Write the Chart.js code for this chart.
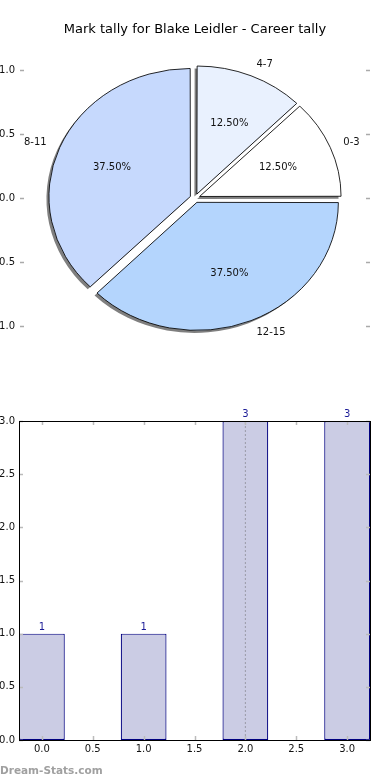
<!DOCTYPE html>
<html>
<head>
<meta charset="utf-8">
<script src="https://cdn.jsdelivr.net/npm/chart.js@4/dist/chart.umd.min.js"></script>
<style>
  html, body { margin: 0; padding: 0; background: #fff; }
  body { width: 390px; height: 780px; position: relative; overflow: hidden; }
  #pieChart { position: absolute; left: -10px; top: 0; }
  #barChart { position: absolute; left: -10px; top: 380px; }
  .watermark { position: absolute; left: 0; top: 764px; font: bold 10.5px "DejaVu Sans", sans-serif; color: #a0a0a0; }
</style>
</head>
<body>
<canvas id="pieChart" width="410" height="380"></canvas>
<canvas id="barChart" width="400" height="400"></canvas>
<div class="watermark">Dream-Stats.com</div>
<script>
// data
const chartTitle = "Mark tally for Blake Leidler - Career tally";
const markRanges = ["0-3", "4-7", "8-11", "12-15"];
const tallyCounts = [1, 1, 3, 3];
const sliceColors = ["#ffffff", "#e9f1fe", "#c6d9fd", "#b4d5fd"];
const pieTicks = [-1, -0.5, 0, 0.5, 1];
const barPositions = [0, 1, 2, 3];
const barXTicks = [0, 0.5, 1, 1.5, 2, 2.5, 3];
const barYTicks = [0, 0.5, 1, 1.5, 2, 2.5, 3];
const meanMark = 2.0;

Chart.defaults.font.family = '"DejaVu Sans", sans-serif';
Chart.defaults.font.size = 10;
Chart.defaults.color = "#111";

const ELLIPSE_X = 1.105; // pie axes are not equal-aspect, so it is a bit wider than tall
const total = tallyCounts.reduce((a, b) => a + b, 0);

// matplotlib goes counter-clockwise from 3 o'clock, Chart.js clockwise -> reverse
const pieLabels = markRanges.slice().reverse();
const pieValues = tallyCounts.slice().reverse();
const pieColors = sliceColors.slice().reverse();

function stretch(ctx, cx, cy) {
  ctx.translate(cx, cy);
  ctx.scale(ELLIPSE_X, 1);
  ctx.translate(-cx, -cy);
}

const pieDecor = {
  id: "pieDecor",
  beforeDatasetsDraw(chart) {
    const ctx = chart.ctx;
    const arcs = chart.getDatasetMeta(0).data;
    const cx = arcs[0].x, cy = arcs[0].y;
    // shadow pass, same arcs in grey nudged down-left
    arcs.forEach(arc => {
      const saved = arc.options;
      arc.options = Object.assign({}, saved, { backgroundColor: "rgba(0,0,0,0.5)", borderWidth: 0 });
      ctx.save();
      ctx.translate(-2.5, 2.5);
      stretch(ctx, cx, cy);
      arc.draw(ctx);
      ctx.restore();
      arc.options = saved;
    });
    ctx.save();
    stretch(ctx, cx, cy);
  },
  afterDatasetsDraw(chart) {
    const ctx = chart.ctx;
    ctx.restore();
    const arcs = chart.getDatasetMeta(0).data;
    ctx.save();
    ctx.font = '10px "DejaVu Sans"';
    ctx.fillStyle = "#111";
    ctx.textBaseline = "middle";
    arcs.forEach((arc, i) => {
      const a = (arc.startAngle + arc.endAngle) / 2;
      const shift = (arc.options.offset || 0) / 4;
      const R = arc.outerRadius + shift * (1 - Math.sin(Math.min(Math.PI, arc.circumference)));
      const ex = arc.x + ELLIPSE_X * shift * Math.cos(a);
      const ey = arc.y + shift * Math.sin(a);
      ctx.textAlign = Math.cos(a) > 0 ? "left" : "right";
      ctx.fillText(pieLabels[i], ex + ELLIPSE_X * 1.1 * R * Math.cos(a), ey + 1.1 * R * Math.sin(a));
      ctx.textAlign = "center";
      const pct = (pieValues[i] / total * 100).toFixed(2) + "%";
      ctx.fillText(pct, ex + ELLIPSE_X * 0.6 * R * Math.cos(a), ey + 0.6 * R * Math.sin(a));
    });
    ctx.restore();
  }
};

const pieAxis = (position) => ({
  type: "linear",
  position,
  min: -1.1,
  max: 1.1,
  afterBuildTicks: (scale) => { scale.ticks = pieTicks.map(v => ({ value: v })); },
  afterFit: (scale) => { scale.width = 34; },
  grid: { display: true, drawOnChartArea: false, drawTicks: true, tickLength: 4, tickColor: "#aaa", tickWidth: 1.5 },
  border: { display: false },
  ticks: {
    display: position === "left",
    padding: 5,
    callback: (v) => (v < 0 ? "\u2212" : "") + Math.abs(v).toFixed(1)
  }
});

new Chart(document.getElementById("pieChart"), {
  type: "pie",
  data: {
    labels: pieLabels,
    datasets: [{
      data: pieValues,
      backgroundColor: pieColors,
      borderColor: "#000",
      borderWidth: 0.8,
      offset: 18
    }]
  },
  options: {
    responsive: false,
    animation: false,
    events: [],
    rotation: 90,
    radius: 126.7,
    layout: { padding: { top: 0, left: 0, right: 0, bottom: 41.2 } },
    plugins: {
      legend: { display: false },
      tooltip: { enabled: false },
      title: {
        display: true,
        text: chartTitle,
        color: "#000",
        font: { size: 13, weight: "normal", lineHeight: 1.2 },
        padding: { top: 22, bottom: 20 }
      }
    },
    scales: {
      y: pieAxis("left"),
      y2: pieAxis("right")
    }
  },
  plugins: [pieDecor]
});

const barDecor = {
  id: "barDecor",
  afterDatasetsDraw(chart) {
    const { ctx, chartArea: ca, scales: { x, y } } = chart;
    ctx.save();
    // inward tick marks on all four sides
    ctx.strokeStyle = "#bbb";
    ctx.lineWidth = 1.5;
    ctx.beginPath();
    x.ticks.forEach(t => {
      const px = Math.round(x.getPixelForValue(t.value)) + 0.5;
      ctx.moveTo(px, ca.top); ctx.lineTo(px, ca.top + 4);
      ctx.moveTo(px, ca.bottom); ctx.lineTo(px, ca.bottom - 4);
    });
    y.ticks.forEach(t => {
      const py = Math.round(y.getPixelForValue(t.value)) + 0.5;
      ctx.moveTo(ca.left, py); ctx.lineTo(ca.left + 4, py);
      ctx.moveTo(ca.right, py); ctx.lineTo(ca.right - 4, py);
    });
    ctx.stroke();
    // frame
    ctx.strokeStyle = "#000";
    ctx.lineWidth = 1;
    ctx.strokeRect(ca.left + 0.5, ca.top + 0.5, ca.right - ca.left, ca.bottom - ca.top);
    // counts above bars
    ctx.fillStyle = "#1a1a96";
    ctx.font = '10px "DejaVu Sans"';
    ctx.textAlign = "center";
    ctx.textBaseline = "alphabetic";
    chart.getDatasetMeta(0).data.forEach((bar, i) => {
      ctx.fillText(String(tallyCounts[i]), bar.x, bar.y - 4);
    });
    ctx.restore();
  }
};

new Chart(document.getElementById("barChart"), {
  type: "bar",
  data: {
    datasets: [{
      type: "bar",
      data: barPositions.map((p, i) => ({ x: p, y: tallyCounts[i] })),
      backgroundColor: "#cbcce4",
      borderColor: "#000080",
      borderWidth: 1.2,
      borderSkipped: false,
      // ticks are 0.5 apart, so 0.9 of that = 0.45 units wide
      barPercentage: 0.9,
      categoryPercentage: 1,
      order: 1
    }, {
      type: "line",
      data: [{ x: meanMark, y: 0 }, { x: meanMark, y: 3 }],
      borderColor: "#9a9aa6",
      borderWidth: 1,
      borderDash: [2, 2],
      pointRadius: 0,
      order: 0
    }]
  },
  options: {
    responsive: false,
    animation: false,
    events: [],
    layout: { padding: { top: 41, right: 20, bottom: 20, left: 0 } },
    plugins: { legend: { display: false }, tooltip: { enabled: false } },
    scales: {
      x: {
        type: "linear",
        min: -0.225,
        max: 3.225,
        offset: false,
        afterBuildTicks: (scale) => { scale.ticks = barXTicks.map(v => ({ value: v })); },
        afterFit: (scale) => { scale.height = 20; },
        grid: { display: false, drawTicks: false, offset: false },
        border: { display: false },
        ticks: { padding: 3, autoSkip: false, maxRotation: 0, callback: (v) => v.toFixed(1) }
      },
      y: {
        type: "linear",
        min: 0,
        max: 3,
        afterBuildTicks: (scale) => { scale.ticks = barYTicks.map(v => ({ value: v })); },
        afterFit: (scale) => { scale.width = 29; },
        grid: { display: false, drawTicks: false },
        border: { display: false },
        ticks: { padding: 4, callback: (v) => v.toFixed(1) }
      }
    }
  },
  plugins: [barDecor]
});
</script>
</body>
</html>
